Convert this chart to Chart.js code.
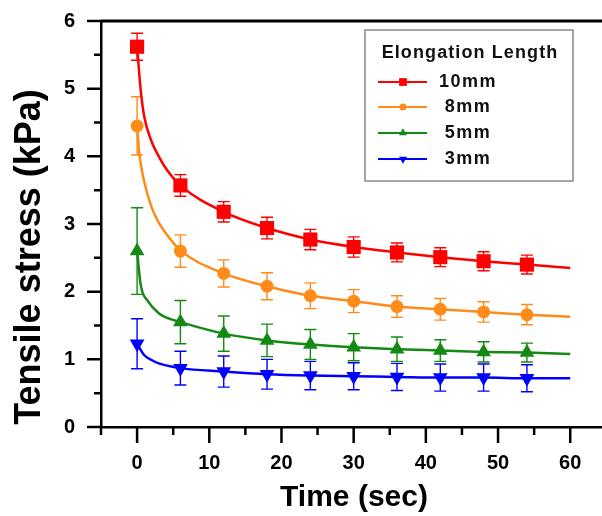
<!DOCTYPE html>
<html>
<head>
<meta charset="utf-8">
<script src="https://cdn.jsdelivr.net/npm/chart.js@4.4.1/dist/chart.umd.min.js"></script>
<style>
  html, body { margin: 0; padding: 0; background: #fff; }
  #wrap { width: 602px; height: 516px; }
</style>
</head>
<body>
<div id="wrap"><canvas id="chart" width="602" height="516"></canvas></div>
<script>
/* ── DATA ── */
const times      = [0, 6, 12, 18, 24, 30, 36, 42, 48, 54];
const seriesName = ['10mm', '8mm', '5mm', '3mm'];

const stress10 = [5.62, 3.57, 3.18, 2.94, 2.77, 2.66, 2.58, 2.51, 2.45, 2.40];
const stress8  = [4.45, 2.60, 2.27, 2.08, 1.94, 1.86, 1.78, 1.74, 1.70, 1.66];
const stress5  = [2.60, 1.55, 1.38, 1.28, 1.22, 1.18, 1.15, 1.13, 1.11, 1.10];
const stress3  = [1.23, 0.87, 0.82, 0.78, 0.76, 0.75, 0.74, 0.73, 0.73, 0.72];

const err10 = [0.20, 0.16, 0.15, 0.16, 0.15, 0.15, 0.14, 0.14, 0.14, 0.14];
const err8  = [0.43, 0.24, 0.20, 0.20, 0.19, 0.17, 0.16, 0.16, 0.15, 0.15];
const err5  = [0.64, 0.32, 0.26, 0.24, 0.22, 0.20, 0.18, 0.16, 0.15, 0.14];
const err3  = [0.37, 0.25, 0.23, 0.22, 0.21, 0.20, 0.20, 0.20, 0.20, 0.20];

// fitted curves
const fitT10 = [0, 0.5, 1, 2, 3, 4, 6, 12, 18, 24, 30, 36, 42, 48, 54, 60];
const fitY10 = [5.62, 4.98, 4.58, 4.22, 4.00, 3.82, 3.57, 3.18, 2.94, 2.77, 2.66, 2.58, 2.51, 2.45, 2.40, 2.35];
const fitT8  = [0, 0.3, 1, 2, 3, 4, 6, 12, 18, 24, 30, 36, 42, 48, 54, 60];
const fitY8  = [4.45, 4.05, 3.62, 3.25, 3.02, 2.86, 2.61, 2.27, 2.08, 1.94, 1.86, 1.78, 1.74, 1.70, 1.66, 1.63];
const fitT5  = [0, 0.5, 1.5, 3, 4, 6, 12, 18, 24, 30, 36, 42, 48, 54, 60];
const fitY5  = [2.60, 2.10, 1.86, 1.68, 1.62, 1.55, 1.38, 1.28, 1.22, 1.18, 1.15, 1.13, 1.11, 1.10, 1.08];
const fitT3  = [0, 1, 2, 3, 6, 12, 18, 24, 30, 36, 42, 48, 54, 60];
const fitY3  = [1.23, 1.06, 0.99, 0.94, 0.87, 0.82, 0.78, 0.76, 0.75, 0.74, 0.73, 0.73, 0.72, 0.72];

const xTickLabels = [0, 10, 20, 30, 40, 50, 60];
const xMinorTicks = [-5, 5, 15, 25, 35, 45, 55];
const yTickLabels = [0, 1, 2, 3, 4, 5, 6];
const yMinorTicks = [0.5, 1.5, 2.5, 3.5, 4.5, 5.5];

/* ── STYLE ── */
const FONT   = '"Liberation Sans", Arial, sans-serif';
const colors = ['#ff0000', '#ff8c1a', '#148a14', '#0000ff'];
const marks  = [
  { style: 'rect',     radius: 10,  rotation: 0 },
  { style: 'circle',   radius: 6.5, rotation: 0 },
  { style: 'triangle', radius: 8.5, rotation: 0 },
  { style: 'triangle', radius: 8.5, rotation: 180 },
];

const stressSets = [stress10, stress8, stress5, stress3];
const errSets    = [err10, err8, err5, err3];
const fitSets    = [[fitT10, fitY10], [fitT8, fitY8], [fitT5, fitY5], [fitT3, fitY3]];

const toXY = (xs, ys) => xs.map((x, i) => ({ x, y: ys[i] }));

const datasets = [];
seriesName.forEach((name, i) => {
  datasets.push({
    label: name + ' fit',
    data: toXY(fitSets[i][0], fitSets[i][1]),
    showLine: true,
    borderColor: colors[i],
    borderWidth: 2.5,
    pointRadius: 0,
    cubicInterpolationMode: 'monotone',
    order: 2,
  });
});
seriesName.forEach((name, i) => {
  datasets.push({
    label: name,
    data: toXY(times, stressSets[i]),
    errors: errSets[i],
    showLine: false,
    backgroundColor: colors[i],
    borderColor: colors[i],
    borderWidth: 0,
    pointStyle: marks[i].style,
    pointRadius: marks[i].radius,
    rotation: marks[i].rotation,
    order: 1,
  });
});

/* ── PLUGINS ── */
const errorBars = {
  id: 'errorBars',
  beforeDatasetsDraw(chart) {
    const { ctx, scales: { x, y } } = chart;
    ctx.save();
    ctx.lineWidth = 1.4;
    chart.data.datasets.forEach((ds) => {
      if (!ds.errors) return;
      ctx.strokeStyle = ds.borderColor;
      ds.data.forEach((p, i) => {
        const px = x.getPixelForValue(p.x);
        const top = y.getPixelForValue(p.y + ds.errors[i]);
        const bot = y.getPixelForValue(p.y - ds.errors[i]);
        ctx.beginPath();
        ctx.moveTo(px, top); ctx.lineTo(px, bot);
        ctx.moveTo(px - 6, top); ctx.lineTo(px + 6, top);
        ctx.moveTo(px - 6, bot); ctx.lineTo(px + 6, bot);
        ctx.stroke();
      });
    });
    ctx.restore();
  },
};

const frame = {
  id: 'frame',
  afterDraw(chart) {
    const { ctx, chartArea: a, scales: { x, y } } = chart;
    ctx.save();
    ctx.strokeStyle = '#000';
    // top border
    ctx.lineWidth = 3;
    ctx.beginPath(); ctx.moveTo(a.left, a.top); ctx.lineTo(chart.width, a.top); ctx.stroke();

    // tick marks
    ctx.lineWidth = 2.5;
    ctx.beginPath();
    xTickLabels.forEach(v => { const p = x.getPixelForValue(v); ctx.moveTo(p, a.bottom); ctx.lineTo(p, a.bottom + 16); });
    xMinorTicks.forEach(v => { const p = x.getPixelForValue(v); ctx.moveTo(p, a.bottom); ctx.lineTo(p, a.bottom + 8); });
    yTickLabels.forEach(v => { const p = y.getPixelForValue(v); ctx.moveTo(a.left, p); ctx.lineTo(a.left - 14, p); });
    yMinorTicks.forEach(v => { const p = y.getPixelForValue(v); ctx.moveTo(a.left, p); ctx.lineTo(a.left - 7, p); });
    ctx.stroke();

    // axis titles
    ctx.fillStyle = '#000';
    ctx.textAlign = 'center';
    ctx.textBaseline = 'middle';
    ctx.font = 'bold 30px ' + FONT;
    ctx.fillText('Time (sec)', 354, 498);
    ctx.save();
    ctx.translate(30, 257);
    ctx.rotate(-Math.PI / 2);
    ctx.font = 'bold 36px ' + FONT;
    ctx.fillText('Tensile stress (kPa)', 0, 0);
    ctx.restore();

    // legend
    const L = { left: 365, top: 30, right: 573, bottom: 181 };
    ctx.fillStyle = '#fff';
    ctx.fillRect(L.left, L.top, L.right - L.left, L.bottom - L.top);
    ctx.strokeStyle = '#8a8a8a';
    ctx.lineWidth = 1.5;
    ctx.strokeRect(L.left, L.top, L.right - L.left, L.bottom - L.top);

    ctx.fillStyle = '#111';
    ctx.font = 'bold 18px ' + FONT;
    ctx.letterSpacing = '1.1px';
    ctx.fillText('Elongation Length', 470, 53);

    const rowY = [82, 107, 133, 159];
    seriesName.forEach((name, i) => {
      const ry = rowY[i];
      ctx.strokeStyle = colors[i];
      ctx.lineWidth = 2.2;
      ctx.beginPath(); ctx.moveTo(378, ry); ctx.lineTo(427, ry); ctx.stroke();
      ctx.fillStyle = colors[i];
      Chart.helpers.drawPoint(ctx, {
        pointStyle: marks[i].style,
        radius: marks[i].radius * 0.55,
        rotation: marks[i].rotation,
        borderWidth: 0,
      }, 403, ry);
      ctx.fillStyle = '#111';
      ctx.letterSpacing = '1.5px';
      ctx.fillText(name, 468, ry);
    });
    ctx.restore();
  },
};

/* ── CHART ── */
new Chart(document.getElementById('chart'), {
  type: 'scatter',
  data: { datasets },
  options: {
    responsive: false,
    animation: false,
    events: [],
    layout: { autoPadding: false, padding: { top: 21, right: 0, left: 0, bottom: 0 } },
    plugins: { legend: { display: false }, tooltip: { enabled: false } },
    scales: {
      x: {
        type: 'linear',
        min: -5,
        max: 64.4,
        afterFit: (s) => { s.height = 89; s.paddingLeft = 0; s.paddingRight = 0; },
        afterBuildTicks: (s) => { s.ticks = xTickLabels.map(v => ({ value: v })); },
        grid: { display: false, drawTicks: false },
        border: { color: '#000', width: 2.5 },
        ticks: { color: '#000', padding: 24, font: { family: FONT, size: 20, weight: 'bold' } },
      },
      y: {
        type: 'linear',
        min: 0,
        max: 6,
        afterFit: (s) => { s.width = 101; s.paddingTop = 0; s.paddingBottom = 0; },
        afterBuildTicks: (s) => { s.ticks = yTickLabels.map(v => ({ value: v })); },
        grid: { display: false, drawTicks: false },
        border: { color: '#000', width: 2.5 },
        ticks: { color: '#000', padding: 26, font: { family: FONT, size: 20, weight: 'bold' } },
      },
    },
  },
  plugins: [errorBars, frame],
});
</script>
</body>
</html>
